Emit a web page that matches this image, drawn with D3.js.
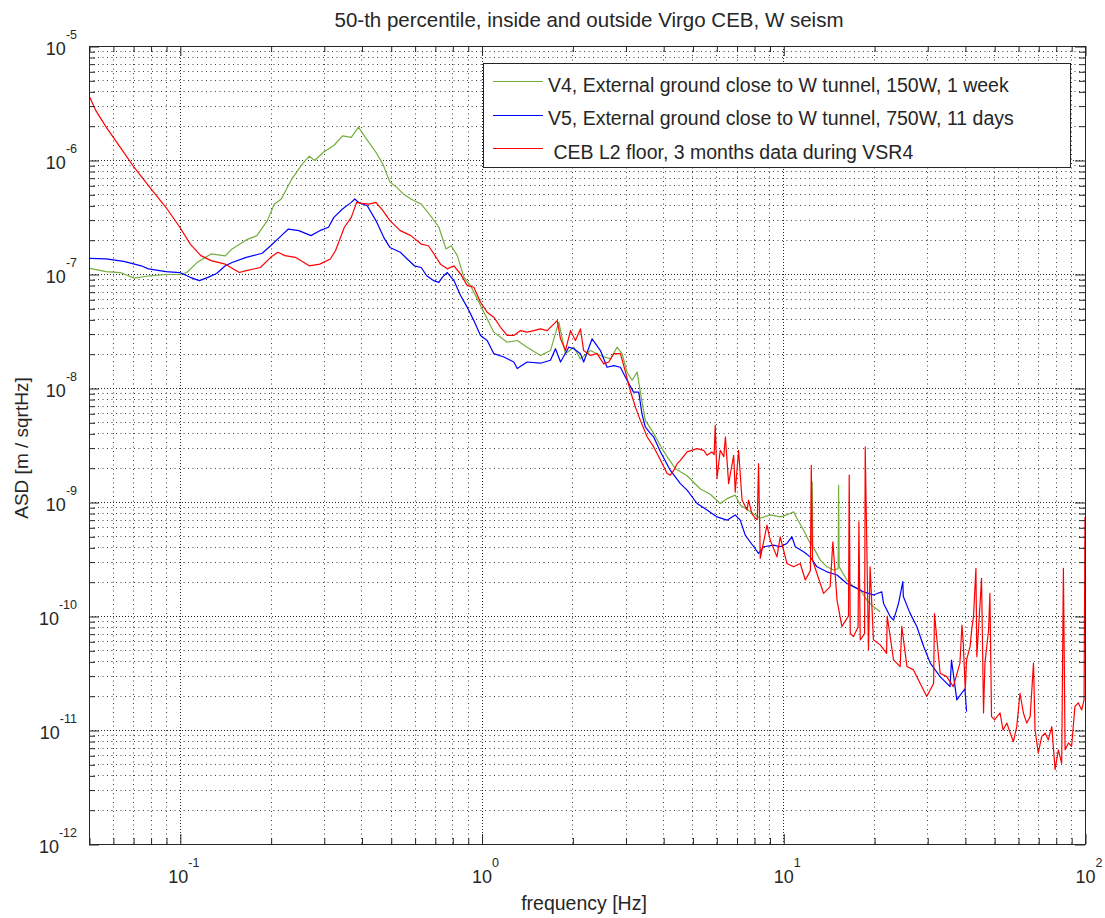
<!DOCTYPE html>
<html><head><meta charset="utf-8">
<script src="https://cdn.jsdelivr.net/npm/d3@7"></script>
<style>
body{margin:0;background:#fff}
text{font-family:"Liberation Sans",Arial,Helvetica,sans-serif;fill:#262626}
</style>
</head><body>
<svg id="chart" width="1105" height="918"></svg>
<script>
// ---------------- data ----------------
const chartTitle = "50-th percentile, inside and outside Virgo CEB, W seism";
const xLabel = "frequency [Hz]";
const yLabel = "ASD [m / sqrtHz]";
const seriesNames = [
  "V4, External ground close to W tunnel, 150W, 1 week",
  "V5, External ground close to W tunnel, 750W, 11 days",
  " CEB L2 floor, 3 months data during VSR4"
];
const seriesColors = ["#74ae3e", "#0000ff", "#ff0000"];
const xTickExponents = [-1, 0, 1, 2];
const yTickExponents = [-12, -11, -10, -9, -8, -7, -6, -5];

const v4Freq = [0.0503,0.057,0.0635,0.0706,0.0787,0.0899,0.1,0.1055,0.114,0.127,0.1415,0.149,0.166,0.18,0.195,0.2056,0.217,0.235,0.2545,0.2685,0.28,0.299,0.324,0.346,0.37,0.391,0.412,0.4466,0.471,0.497,0.524,0.552,0.583,0.631,0.684,0.722,0.762,0.793,0.831,0.874,0.92,0.968,1.018,1.098,1.216,1.313,1.416,1.567,1.692,1.803,1.897,2.022,2.127,2.296,2.477,2.674,2.812,2.922,3.034,3.155,3.28,3.36,3.49,3.72,3.92,4.12,4.39,4.80,5.31,5.73,6.18,6.51,6.93,7.2,7.98,8.39,9.05,9.77,10.28,10.82,11.1,11.68,12.28,12.42,12.47,12.52,13.26,13.95,14.68,15.2,15.25,15.32,16.25,17.09,17.99,18.92,19.9,20.95];
const v4Asd = [1.12e-7,1.05e-7,1.03e-7,9.2e-8,9.6e-8,9.9e-8,9.9e-8,1.03e-7,1.26e-7,1.5e-7,1.44e-7,1.66e-7,1.99e-7,2.17e-7,2.94e-7,4.1e-7,4.55e-7,6.8e-7,9.2e-7,1.08e-6,9.9e-7,1.17e-6,1.34e-6,1.63e-6,1.58e-6,1.94e-6,1.58e-6,1.17e-6,9.2e-7,6.4e-7,5.75e-7,5.0e-7,4.55e-7,4.1e-7,3.14e-7,2.57e-7,1.66e-7,1.77e-7,1.45e-7,9.35e-8,7.9e-8,6.05e-8,4.62e-8,3.09e-8,2.52e-8,2.61e-8,2.28e-8,1.93e-8,2.13e-8,3.78e-8,2.0e-8,2.28e-8,1.8e-8,2.13e-8,1.93e-8,1.8e-8,2.28e-8,2.0e-8,1.38e-8,1.17e-8,1.38e-8,9.2e-9,5.2e-9,4.0e-9,3.1e-9,2.5e-9,1.96e-9,1.7e-9,1.3e-9,1.17e-9,9.7e-10,1.07e-9,1.15e-9,9.4e-10,7.9e-10,7.2e-10,7.7e-10,7.4e-10,7.7e-10,8.2e-10,7.2e-10,5.66e-10,4.33e-10,4.2e-10,1.5e-9,4.1e-10,3.09e-10,2.7e-10,2.53e-10,2.6e-10,1.4e-9,2.7e-10,2.07e-10,1.81e-10,1.69e-10,1.38e-10,1.21e-10,1.09e-10];

const v5Freq = [0.0503,0.057,0.0652,0.0745,0.0787,0.0899,0.1,0.1083,0.116,0.124,0.1324,0.1415,0.149,0.166,0.1875,0.2,0.217,0.229,0.248,0.272,0.291,0.311,0.324,0.346,0.37,0.38,0.391,0.418,0.4466,0.477,0.497,0.538,0.567,0.599,0.631,0.658,0.693,0.722,0.741,0.77,0.81,0.852,0.897,0.943,0.992,1.044,1.098,1.186,1.279,1.313,1.416,1.567,1.692,1.758,1.827,1.946,2.022,2.127,2.18,2.325,2.477,2.606,2.742,2.885,3.034,3.19,3.32,3.40,3.49,3.63,3.72,3.92,4.22,4.56,4.80,5.18,5.59,6.03,6.51,6.93,7.2,7.48,7.98,8.28,8.61,9.29,9.77,10.28,10.68,10.96,11.68,12.28,12.93,13.95,15.07,16.25,17.09,18.45,19.9,21.2,21.5,22.6,23.2,24.1,24.9,25.0,26.3,27.7,29.2,30.7,33.1,35.7,36.1,37.6,40.0,40.5];
const v5Asd = [1.37e-7,1.355e-7,1.29e-7,1.18e-7,1.11e-7,1.05e-7,1.03e-7,9.35e-8,8.75e-8,9.35e-8,1.01e-7,1.18e-7,1.26e-7,1.4e-7,1.52e-7,1.77e-7,2.17e-7,2.48e-7,2.4e-7,2.17e-7,2.4e-7,2.57e-7,3.14e-7,3.72e-7,4.25e-7,4.55e-7,4.25e-7,3.97e-7,2.94e-7,2.03e-7,1.71e-7,1.55e-7,1.355e-7,1.18e-7,1.14e-7,9.65e-8,8.75e-8,8.45e-8,9.35e-8,1.03e-7,8.75e-8,6.47e-8,5.1e-8,3.9e-8,2.89e-8,2.61e-8,2.0e-8,1.87e-8,1.69e-8,1.48e-8,1.69e-8,1.65e-8,1.75e-8,2.21e-8,1.69e-8,2.28e-8,2.21e-8,2.0e-8,1.69e-8,2.7e-8,2.13e-8,1.52e-8,1.57e-8,1.52e-8,1.17e-8,9.2e-9,9.2e-9,5.96e-9,4.55e-9,3.98e-9,3.72e-9,2.75e-9,1.9e-9,1.45e-9,1.27e-9,9.7e-10,8.5e-10,7.4e-10,6.93e-10,7.7e-10,6.93e-10,5.12e-10,4.05e-10,3.54e-10,4.05e-10,4.19e-10,4.05e-10,4.33e-10,4.95e-10,4.05e-10,3.66e-10,3.3e-10,2.7e-10,2.44e-10,2.29e-10,1.93e-10,1.81e-10,1.63e-10,1.53e-10,1.63e-10,1.29e-10,9.9e-11,9.2e-11,1.29e-10,2.0e-10,1.48e-10,1.06e-10,8.1e-11,5.4e-11,3.86e-11,2.94e-11,2.4e-11,4.1e-11,1.84e-11,2.3e-11,1.45e-11];

const cebFreq = [0.0503,0.0527,0.057,0.0635,0.0706,0.0787,0.0899,0.1,0.1083,0.1174,0.127,0.1415,0.1575,0.166,0.185,0.2,0.2113,0.223,0.2415,0.2685,0.291,0.3155,0.328,0.351,0.37,0.3855,0.401,0.423,0.4466,0.471,0.497,0.538,0.583,0.631,0.667,0.713,0.731,0.77,0.81,0.852,0.897,0.943,0.992,1.044,1.098,1.156,1.216,1.279,1.346,1.416,1.49,1.567,1.65,1.781,1.827,1.897,1.971,2.047,2.127,2.18,2.296,2.415,2.54,2.64,2.742,2.885,3.0,3.11,3.236,3.36,3.54,3.72,3.92,4.12,4.22,4.34,4.45,4.56,4.80,5.18,5.45,5.59,5.8,5.9,5.95,6.03,6.18,6.35,6.43,6.59,6.85,6.93,7.11,7.3,7.59,7.67,7.87,8.08,8.2,8.28,8.39,8.83,9.05,9.53,9.77,10.28,10.82,11.38,11.83,12.3,12.38,12.5,12.93,13.6,14.3,14.6,15.07,15.64,16.45,16.54,16.67,17.09,17.7,17.81,17.99,18.6,18.69,19.16,19.4,19.9,20.95,22.0,22.1,23.2,24.4,24.7,25.7,27.0,28.4,29.9,31.5,31.7,33.1,34.8,36.6,38.5,39.1,39.5,40.1,40.5,41.6,42.1,42.7,43.5,43.8,44.9,45.4,46.1,46.6,47.9,48.4,49.0,50.2,52.3,53.5,55.1,56.5,57.9,59.4,60.9,62.5,64.1,65.8,67.5,68.3,70.0,71.9,73.7,75.6,77.6,79.6,81.6,83.7,84.8,85.9,88.1,90.3,92.6,95.0,97.5,99.3,100];
const cebAsd = [3.55e-6,2.71e-6,1.94e-6,1.29e-6,8.6e-7,5.96e-7,3.85e-7,2.57e-7,1.83e-7,1.45e-7,1.31e-7,1.22e-7,1.03e-7,1.07e-7,1.14e-7,1.4e-7,1.55e-7,1.45e-7,1.4e-7,1.18e-7,1.22e-7,1.355e-7,1.6e-7,2.57e-7,3.14e-7,4.25e-7,4.16e-7,4.1e-7,4.25e-7,3.6e-7,2.94e-7,2.4e-7,2.17e-7,1.83e-7,1.77e-7,1.355e-7,1.22e-7,1.11e-7,1.18e-7,1.0e-7,7.9e-8,7.65e-8,5.65e-8,4.62e-8,4.18e-8,3.41e-8,2.89e-8,2.89e-8,3.19e-8,3.09e-8,3.19e-8,3.3e-8,3.19e-8,3.9e-8,2.7e-8,2.13e-8,3.19e-8,2.61e-8,3.3e-8,2.13e-8,1.93e-8,2.0e-8,1.63e-8,1.69e-8,2.0e-8,2.0e-8,1.38e-8,9.5e-9,6.8e-9,5.2e-9,3.72e-9,3.04e-9,2.32e-9,1.78e-9,1.72e-9,1.9e-9,2.17e-9,2.32e-9,2.75e-9,2.94e-9,2.84e-9,2.57e-9,2.75e-9,2.6e-9,4.7e-9,1.61e-9,2.84e-9,2.5e-9,3.72e-9,1.45e-9,2.57e-9,1.22e-9,2.84e-9,1.04e-9,8.5e-10,1.04e-9,7.9e-10,7.2e-10,7.0e-10,2.17e-9,3.2e-10,6.27e-10,4.63e-10,3.3e-10,4.95e-10,2.89e-10,2.7e-10,2.89e-10,2.07e-10,2.5e-10,2.1e-9,3.09e-10,2.36e-10,1.58e-10,1.81e-10,4.48e-10,1.38e-10,8.1e-11,1.0e-10,1.72e-9,7.06e-11,6.6e-11,8.0e-11,6.7e-10,6.18e-11,7.0e-11,3.04e-9,5.05e-11,2.7e-10,6.18e-11,5.58e-11,4.71e-11,1.0e-10,4.12e-11,3.6e-11,8.1e-11,3.6e-11,3.37e-11,2.57e-11,1.97e-11,2.57e-11,1.05e-10,3.15e-11,2.94e-11,2.4e-11,3.86e-11,8.3e-11,5.77e-11,2.25e-11,4.12e-11,5.38e-11,7.5e-11,9.9e-11,2.62e-10,4.4e-11,1.29e-10,2.14e-10,1.41e-11,3.86e-11,7.5e-11,1.58e-10,1.31e-11,1.23e-11,1.41e-11,1.0e-11,1.15e-11,9.4e-12,7.9e-12,1.07e-11,2.1e-11,1.41e-11,1.15e-11,1.31e-11,3.86e-11,1.0e-11,6.3e-12,8.8e-12,9.4e-12,8.2e-12,1.07e-11,4.5e-12,6.7e-12,5.1e-12,2.62e-10,6.7e-12,7.7e-12,7.2e-12,1.61e-11,1.73e-11,1.5e-11,1.84e-11,7.4e-10];

// ---------------- layout ----------------
const box = {l: 89, r: 1085, t: 46, b: 844};
const svg = d3.select("#chart");
svg.append("rect").attr("width", 1105).attr("height", 918).attr("fill", "#fff");

const x = d3.scaleLog().domain([0.05, 100]).range([box.l, box.r]);
const y = d3.scaleLog().domain([1e-12, 1e-5]).range([box.b, box.t]);

const isMajor = v => Math.abs(Math.log10(v) - Math.round(Math.log10(v))) < 1e-9;
const xTicksAll = x.ticks().filter(v => v >= 0.05 - 1e-12 && v <= 100 + 1e-9);
const yTicksAll = y.ticks();
const px = v => Math.round(x(v)) + 0.5;
const py = v => Math.round(y(v)) + 0.5;

// grid
const grid = svg.append("g");
xTicksAll.forEach(v => {
  if (px(v) <= box.l + 1 || px(v) >= box.r - 1) return;
  grid.append("line").attr("x1", px(v)).attr("x2", px(v)).attr("y1", box.t).attr("y2", box.b)
    .attr("stroke", "#000").attr("stroke-width", 1)
    .attr("stroke-dasharray", isMajor(v) ? "1,2" : "1,3.5").attr("opacity", isMajor(v) ? 0.85 : 0.75);
});
yTicksAll.forEach(v => {
  if (py(v) <= box.t + 1 || py(v) >= box.b - 1) return;
  grid.append("line").attr("y1", py(v)).attr("y2", py(v)).attr("x1", box.l).attr("x2", box.r)
    .attr("stroke", "#000").attr("stroke-width", 1)
    .attr("stroke-dasharray", isMajor(v) ? "1,2" : "1,3.5").attr("opacity", isMajor(v) ? 0.85 : 0.75);
});

// series
svg.append("clipPath").attr("id", "clip").append("rect")
  .attr("x", box.l).attr("y", box.t).attr("width", box.r - box.l).attr("height", box.b - box.t);
const line = d3.line().x(d => x(d[0])).y(d => y(d[1]));
const series = [[v4Freq, v4Asd], [v5Freq, v5Asd], [cebFreq, cebAsd]];
const plotG = svg.append("g").attr("clip-path", "url(#clip)");
series.forEach((s, i) => {
  plotG.append("path").datum(s[0].map((f, k) => [f, s[1][k]]))
    .attr("d", line).attr("fill", "none").attr("stroke", seriesColors[i])
    .attr("stroke-width", 1.2).attr("stroke-linejoin", "round");
});

// axes with inward ticks (all four sides)
const majorX = xTickExponents.map(e => Math.pow(10, e));
const minorX = xTicksAll.filter(v => !isMajor(v));
const majorY = yTickExponents.map(e => Math.pow(10, e));
const minorY = yTicksAll.filter(v => !isMajor(v));
function styleAxis(g) {
  g.select(".domain").remove();
  g.selectAll(".tick line").attr("stroke", "#262626");
  g.selectAll("text").remove();
}
const axes = [
  [d3.axisBottom(x).tickValues(majorX).tickSize(-10), `translate(0.5,${box.b})`],
  [d3.axisBottom(x).tickValues(minorX).tickSize(-6), `translate(0.5,${box.b})`],
  [d3.axisTop(x).tickValues(majorX).tickSize(-10), `translate(0.5,${box.t})`],
  [d3.axisTop(x).tickValues(minorX).tickSize(-6), `translate(0.5,${box.t})`],
  [d3.axisLeft(y).tickValues(majorY).tickSize(-10), `translate(${box.l},0.5)`],
  [d3.axisLeft(y).tickValues(minorY).tickSize(-6), `translate(${box.l},0.5)`],
  [d3.axisRight(y).tickValues(majorY).tickSize(-10), `translate(${box.r},0.5)`],
  [d3.axisRight(y).tickValues(minorY).tickSize(-6), `translate(${box.r},0.5)`]
];
axes.forEach(([ax, tr]) => {
  svg.append("g").attr("transform", tr).call(ax.tickFormat("")).call(styleAxis);
});
svg.append("rect").attr("x", box.l + 0.5).attr("y", box.t + 0.5)
  .attr("width", box.r - box.l).attr("height", box.b - box.t)
  .attr("fill", "none").attr("stroke", "#262626").attr("stroke-width", 1);

// tick labels
xTickExponents.forEach(e => {
  const t = svg.append("text").attr("x", x(Math.pow(10, e)) + 4).attr("y", box.b + 39)
    .attr("text-anchor", "middle").attr("font-size", 18);
  t.append("tspan").text("10");
  t.append("tspan").attr("dy", -16).attr("font-size", 12.5).text(String(e));
});
yTickExponents.forEach(e => {
  const t = svg.append("text").attr("x", 77).attr("y", y(Math.pow(10, e)) + 9)
    .attr("text-anchor", "end").attr("font-size", 18);
  t.append("tspan").text("10");
  t.append("tspan").attr("dy", -16).attr("font-size", 12.5).text(String(e));
});

// titles
svg.append("text").attr("x", (box.l + box.r) / 2 + 2).attr("y", 27).attr("text-anchor", "middle")
  .attr("font-size", 20.5).text(chartTitle);
svg.append("text").attr("x", 584).attr("y", 910).attr("text-anchor", "middle")
  .attr("font-size", 19.5).text(xLabel);
svg.append("text").attr("transform", `translate(28,${(box.t + box.b) / 2 + 3}) rotate(-90)`)
  .attr("text-anchor", "middle").attr("font-size", 19).text(yLabel);

// legend
const lg = svg.append("g");
lg.append("rect").attr("x", 483.5).attr("y", 63.5).attr("width", 587).attr("height", 104)
  .attr("fill", "#fff").attr("stroke", "#262626").attr("stroke-width", 1);
seriesNames.forEach((n, i) => {
  const yy = 81 + i * 33.5;
  lg.append("line").attr("x1", 493).attr("x2", 543).attr("y1", Math.round(yy) + 0.5).attr("y2", Math.round(yy) + 0.5)
    .attr("stroke", seriesColors[i]).attr("stroke-width", 1.2);
  lg.append("text").attr("x", 548).attr("y", yy + 10.5).attr("font-size", 19.5)
    .attr("xml:space", "preserve").style("white-space", "pre").text(n);
});
</script>
</body></html>
